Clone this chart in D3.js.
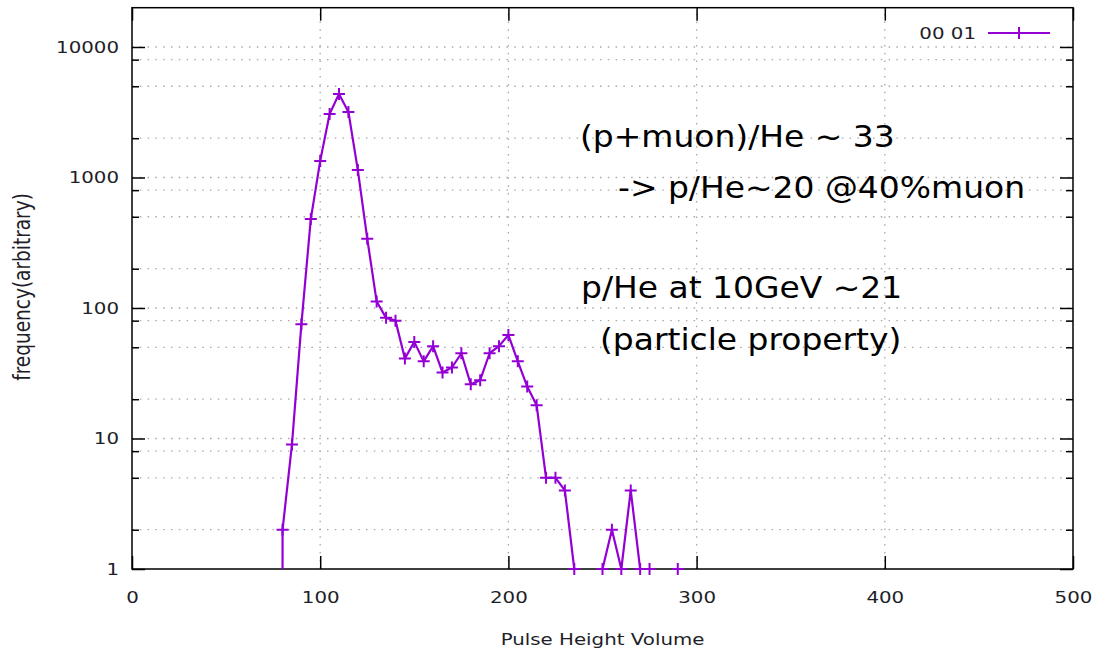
<!DOCTYPE html>
<html>
<head>
<meta charset="utf-8">
<script src="https://d3js.org/d3.v7.min.js"></script>
<style>
  body { margin: 0; background: #fff; }
  text { font-family: "DejaVu Sans", sans-serif; }
</style>
</head>
<body>
<script>
// histogram, bin step 5 (0 = empty bin)
const pulseHeight = [75, 80, 85, 90, 95, 100, 105, 110, 115, 120, 125, 130, 135, 140, 145,
                     150, 155, 160, 165, 170, 175, 180, 185, 190, 195, 200, 205, 210, 215, 220,
                     225, 230, 235, 240, 245, 250, 255, 260, 265, 270, 275, 280, 285, 290, 295];
const frequency = [0, 2, 9, 75, 480, 1340, 3070, 4370, 3180, 1140, 340, 112, 84, 80, 41,
                   55, 39, 51, 32, 35, 45, 26, 28, 45, 51, 62, 39, 25, 18, 5,
                   5, 4, 1, 0, 0, 1, 2, 1, 4, 1, 1, 0, 0, 1, 0];

const xTickValues = [0, 100, 200, 300, 400, 500];
const yMajorTicks = [1, 10, 100, 1000, 10000];
const yMinorTicks = [2, 5, 8, 20, 50, 80, 200, 500, 800, 2000, 5000, 8000];

const seriesLabel = "00 01";
const xTitle = "Pulse Height Volume";
const yTitle = "frequency(arbitrary)";
const notes = ["(p+muon)/He ~ 33", "-> p/He~20 @40%muon", "p/He at 10GeV ~21", "(particle property)"];

const W = 1098, H = 652;
const mLeft = 132, mRight = 1073, mTop = 7.7, mBottom = 569;
const sx = 1.2;            // the picture is stretched sideways
const purple = "#9400d3";

const data = pulseHeight.map((p, i) => ({ p: p, v: frequency[i] }));

const x = d3.scaleLinear().domain([0, 500]).range([mLeft, mRight]);
const y = d3.scaleLog().domain([1, 20000]).range([mBottom, mTop]);

const svg = d3.select("body").append("svg")
    .attr("width", W)
    .attr("height", H);

// grid
const grid = svg.append("g")
    .attr("stroke", "#a8a8a8")
    .attr("stroke-width", 1.3)
    .attr("stroke-dasharray", "1.5,6.3");

grid.selectAll("line.h")
    .data(yMajorTicks.concat(yMinorTicks).filter(v => v > 1))
    .join("line")
    .attr("class", "h")
    .attr("x1", mLeft).attr("x2", mRight)
    .attr("y1", d => y(d)).attr("y2", d => y(d));

grid.selectAll("line.v")
    .data(xTickValues.filter(v => v > 0 && v < 500))
    .join("line")
    .attr("class", "v")
    .attr("y1", mBottom).attr("y2", mTop)
    .attr("x1", d => x(d)).attr("x2", d => x(d));

function styleAxis(g) {
  g.select(".domain").remove();
  g.selectAll(".tick line").attr("stroke", "#000").attr("stroke-width", 1.5);
  g.selectAll(".tick text")
    .attr("fill", "#1e1e28")
    .attr("font-size", 16.5)
    .attr("font-family", "DejaVu Sans");
}

// left
svg.append("g")
    .attr("transform", `translate(${mLeft},0)`)
    .call(d3.axisLeft(y).tickValues(yMajorTicks).tickFormat(d3.format("d"))
      .tickSizeInner(-13).tickSizeOuter(0).tickPadding(13))
    .call(styleAxis)
    .selectAll(".tick text")
    .attr("x", -13 / sx)
    .attr("transform", `scale(${sx},1)`);

svg.append("g")
    .attr("transform", `translate(${mLeft},0)`)
    .call(d3.axisLeft(y).tickValues(yMinorTicks).tickFormat("").tickSizeInner(-7).tickSizeOuter(0))
    .call(styleAxis);

// right (mirror)
svg.append("g")
    .attr("transform", `translate(${mRight},0)`)
    .call(d3.axisRight(y).tickValues(yMajorTicks).tickFormat("").tickSizeInner(-13).tickSizeOuter(0))
    .call(styleAxis);

svg.append("g")
    .attr("transform", `translate(${mRight},0)`)
    .call(d3.axisRight(y).tickValues(yMinorTicks).tickFormat("").tickSizeInner(-7).tickSizeOuter(0))
    .call(styleAxis);

// bottom
svg.append("g")
    .attr("transform", `translate(0,${mBottom})`)
    .call(d3.axisBottom(x).tickValues(xTickValues).tickFormat(d3.format("d"))
      .tickSizeInner(-13).tickSizeOuter(0).tickPadding(22))
    .call(styleAxis)
    .selectAll(".tick text")
    .attr("transform", `scale(${sx},1)`);

// top (mirror)
svg.append("g")
    .attr("transform", `translate(0,${mTop})`)
    .call(d3.axisTop(x).tickValues(xTickValues).tickFormat("").tickSizeInner(-13).tickSizeOuter(0))
    .call(styleAxis);

// frame
svg.append("rect")
    .attr("x", mLeft).attr("y", mTop)
    .attr("width", mRight - mLeft).attr("height", mBottom - mTop)
    .attr("fill", "none")
    .attr("stroke", "#000")
    .attr("stroke-width", 1.5);

// data line, empty bins go to -infinity on the log axis
svg.append("clipPath").attr("id", "plotclip")
  .append("rect")
    .attr("x", mLeft).attr("y", mTop)
    .attr("width", mRight - mLeft).attr("height", mBottom - mTop);

const line = d3.line()
    .x(d => x(d.p))
    .y(d => d.v > 0 ? y(d.v) : mBottom + 50000);

svg.append("path")
    .datum(data)
    .attr("clip-path", "url(#plotclip)")
    .attr("d", line)
    .attr("fill", "none")
    .attr("stroke", purple)
    .attr("stroke-width", 2.2)
    .attr("stroke-linejoin", "round");

const plus = "M-6,0H6M0,-6V6";

svg.append("g").selectAll("path")
    .data(data.filter(d => d.v > 0))
    .join("path")
    .attr("transform", d => `translate(${x(d.p)},${y(d.v)})`)
    .attr("d", plus)
    .attr("stroke", purple)
    .attr("stroke-width", 2);

// legend
svg.append("text")
    .attr("transform", `translate(976,39) scale(${sx},1)`)
    .attr("text-anchor", "end")
    .attr("font-size", 16.5)
    .attr("fill", "#1e1e28")
    .text(seriesLabel);

svg.append("line")
    .attr("x1", 988).attr("x2", 1050)
    .attr("y1", 33).attr("y2", 33)
    .attr("stroke", purple).attr("stroke-width", 2);

svg.append("path")
    .attr("transform", "translate(1019,33)")
    .attr("d", plus)
    .attr("stroke", purple).attr("stroke-width", 2);

// axis titles
svg.append("text")
    .attr("transform", `translate(${(mLeft + mRight) / 2},645) scale(${sx},1)`)
    .attr("text-anchor", "middle")
    .attr("font-size", 16.5)
    .attr("fill", "#1e1e28")
    .text(xTitle);

svg.append("text")
    .attr("transform", `translate(29.5,287) rotate(-90) scale(1,${sx})`)
    .attr("text-anchor", "middle")
    .attr("font-size", 18.5)
    .attr("fill", "#1e1e28")
    .text(yTitle);

// annotation
const noteX = [580, 618, 581, 600];
const noteY = [146.7, 198.3, 298, 350];

svg.append("g").selectAll("text")
    .data(notes)
    .join("text")
    .attr("transform", (d, i) => `translate(${noteX[i]},${noteY[i]}) scale(1.08,1)`)
    .attr("font-family", "'Open Sans', sans-serif")
    .attr("font-size", 30.5)
    .attr("fill", "#000")
    .text(d => d);
</script>
</body>
</html>
